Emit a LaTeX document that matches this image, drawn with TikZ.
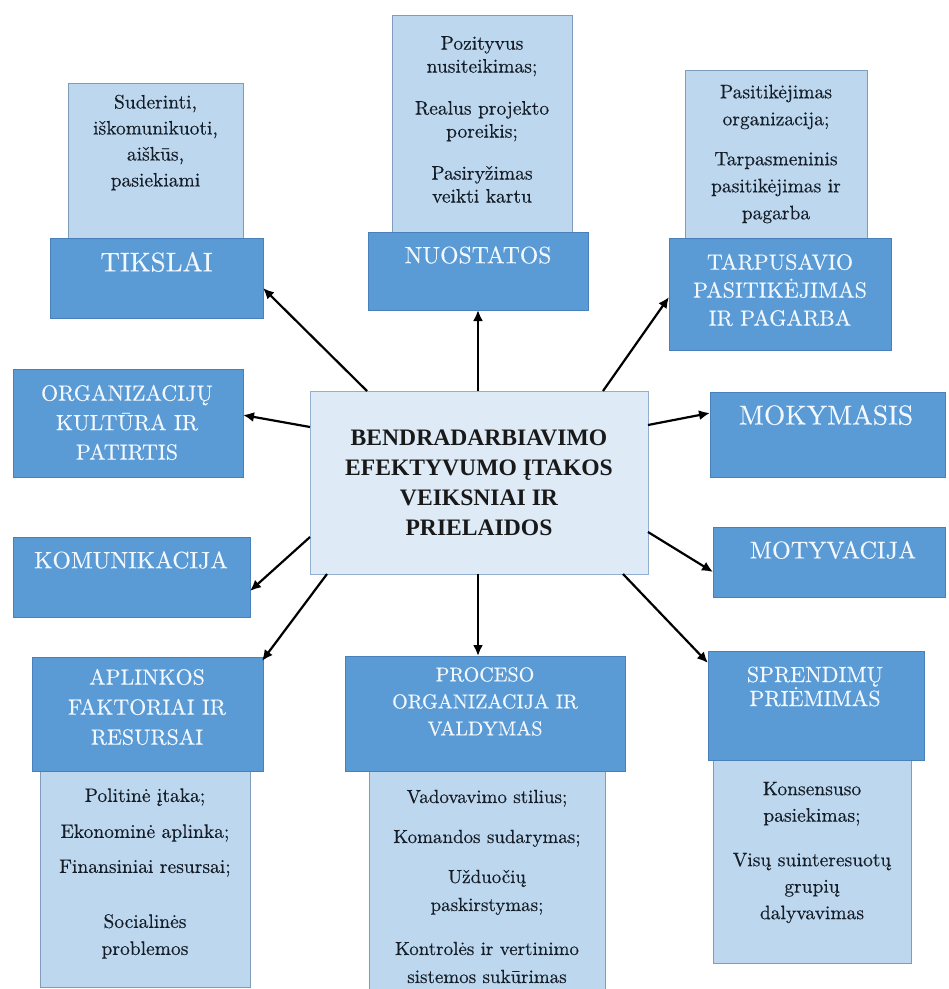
\documentclass[tikz,border=0pt]{standalone}
\usepackage{fontspec}
\setmainfont{lmroman10-regular}[
  Extension=.otf,
  UprightFeatures={FakeBold=0.35},
  BoldFont=lmroman10-bold,
  ItalicFont=lmroman10-italic]
\newfontfamily\corefont{Liberation Serif}
\usetikzlibrary{arrows.meta}

\definecolor{headfill}{HTML}{5B9BD5}
\definecolor{headline}{HTML}{4A80BA}
\definecolor{notefill}{HTML}{BDD7EE}
\definecolor{noteline}{HTML}{7F9CBB}
\definecolor{corefill}{HTML}{DEEBF7}
\definecolor{coreline}{HTML}{93AFCF}
\definecolor{headtext}{HTML}{F2F8FF}
\definecolor{notetext}{HTML}{151E28}

\tikzset{
  panel/.style={rectangle, draw, line width=1pt, inner sep=0pt, outer sep=0pt, anchor=north west},
  headbox/.style={panel, fill=headfill, draw=headline},
  notebox/.style={panel, fill=notefill, draw=noteline},
  corebox/.style={panel, fill=corefill, draw=coreline},
  wh/.style 2 args={minimum width=#1pt, minimum height=#2pt},
  headlabel/.style={text=headtext, align=center, inner sep=0pt},
  notelabel/.style={text=notetext, align=center, inner sep=0pt},
  link/.style={draw=black, line width=2.2pt, -{Latex[length=11pt,width=10pt]}}
}
\newcommand{\fs}[2]{\fontsize{#1}{#2}\selectfont}

\begin{document}
\begin{tikzpicture}[x=1pt, y=-1pt]
\useasboundingbox[fill=white] (0,0) rectangle (949,989);

% detail panels (behind the headings)
\node[notebox, wh={175}{155}] (tikN) at (68,83) {};
\node[notebox, wh={180}{217}] (nuoN) at (392,15) {};
\node[notebox, wh={182}{168}] (tarN) at (685,70) {};
\node[notebox, wh={210}{216}] (aplN) at (40,771) {};
\node[notebox, wh={236}{225}] (proN) at (369,771) {};
\node[notebox, wh={198}{203}] (sprN) at (713,760) {};

% heading panels
\node[headbox, wh={213}{80}]  (tikH) at (50,238) {};
\node[headbox, wh={220}{78}]  (nuoH) at (368,232) {};
\node[headbox, wh={222}{112}] (tarH) at (669,238) {};
\node[headbox, wh={230}{108}] (orgH) at (13,369) {};
\node[headbox, wh={237}{80}]  (komH) at (13,537) {};
\node[headbox, wh={235}{85}]  (mokH) at (710,392) {};
\node[headbox, wh={232}{70}]  (motH) at (713,527) {};
\node[headbox, wh={231}{114}] (aplH) at (32,657) {};
\node[headbox, wh={280}{115}] (proH) at (345,656) {};
\node[headbox, wh={216}{109}] (sprH) at (708,651) {};

% central panel
\node[corebox, wh={338}{183}] (ctr) at (310,391) {};

% heading texts
\node[headlabel, font=\fs{27}{32}] (tikT) at (156.5,262) {TIKSLAI};
\node[headlabel, font=\fs{23.7}{28}] (nuoT) at (478,255) {NUOSTATOS};
\node[headlabel, font=\fs{22}{28}] (tarT) at (780,290) {TARPUSAVIO\\PASITIKĖJIMAS\\IR PAGARBA};
\node[headlabel, font=\fs{22}{29.5}] (orgT) at (127,422.5) {ORGANIZACIJŲ\\KULTŪRA IR\\PATIRTIS};
\node[headlabel, font=\fs{23.7}{28}] (komT) at (131,560) {KOMUNIKACIJA};
\node[headlabel, font=\fs{27.4}{32}] (mokT) at (826,415) {MOKYMASIS};
\node[headlabel, font=\fs{24.2}{28}] (motT) at (833,550) {MOTYVACIJA};
\node[headlabel, font=\fs{21.9}{30}] (aplT) at (147,707) {APLINKOS\\FAKTORIAI IR\\RESURSAI};
\node[headlabel, font=\fs{20.1}{27}] (proT) at (485,701.5) {PROCESO\\ORGANIZACIJA IR\\VALDYMAS};
\node[headlabel, font=\fs{22}{24}] (sprT) at (815,686.5) {SPRENDIMŲ\\PRIĖMIMAS};

% central text
\node[align=center, inner sep=0pt, text=black!90, font=\corefont\fs{23.6}{30}\bfseries] (ctrT) at (479,482.5)
  {BENDRADARBIAVIMO\\EFEKTYVUMO ĮTAKOS\\VEIKSNIAI IR\\PRIELAIDOS};

% detail texts
\node[notelabel, font=\fs{19.5}{26}] (tikL) at (155.5,142.5)
  {Suderinti,\\iškomunikuoti,\\aiškūs,\\pasiekiami};
\node[notelabel, font=\fs{19.5}{23}] (nuoL) at (482,119.5)
  {Pozityvus\\nusiteikimas;\\[19pt]Realus projekto\\poreikis;\\[19pt]Pasiryžimas\\veikti kartu};
\node[notelabel, font=\fs{19.5}{27}] (tarL) at (776,154)
  {Pasitikėjimas\\organizacija;\\[13pt]Tarpasmeninis\\pasitikėjimas ir\\pagarba};
\node[notelabel, font=\fs{19.5}{27}] (aplL) at (145,873.5)
  {Politinė įtaka;\\[9pt]Ekonominė aplinka;\\[8pt]Finansiniai resursai;\\[28pt]Socialinės\\problemos};
\node[notelabel, font=\fs{19}{28}] (proL) at (487,886.5)
  {Vadovavimo stilius;\\[12pt]Komandos sudarymas;\\[12pt]Užduočių\\paskirstymas;\\[16pt]Kontrolės ir vertinimo\\sistemos sukūrimas};
\node[notelabel, font=\fs{19.5}{26.5}] (sprL) at (812,852.5)
  {Konsensuso\\pasiekimas;\\[18pt]Visų suinteresuotų\\grupių\\dalyvavimas};

% connectors from the central panel
\draw[link] ([xshift=57pt]ctr.north west) -- ([yshift=-10pt]tikH.east);
\draw[link] ([xshift=-1pt]ctr.north) -- (nuoH.south);
\draw[link] ([xshift=-45pt]ctr.north east) -- ([yshift=-3pt]tarH.west);
\draw[link] ([yshift=55.5pt]ctr.west) -- ([yshift=8pt]orgH.east);
\draw[link] ([yshift=-54.5pt]ctr.west) -- ([yshift=-14pt]komH.east);
\draw[link] ([xshift=17pt]ctr.south west) -- ([xshift=-1pt,yshift=-4pt]aplH.north east);
\draw[link] ([xshift=-1pt]ctr.south) -- ([xshift=-7pt]proH.north);
\draw[link] ([xshift=-25pt]ctr.south east) -- ([yshift=-12pt]sprH.north west);
\draw[link] ([yshift=57.5pt]ctr.east) -- ([yshift=21.5pt]mokH.west);
\draw[link] ([yshift=-49.5pt]ctr.east) -- ([yshift=-10pt]motH.west);
\end{tikzpicture}
\end{document}
